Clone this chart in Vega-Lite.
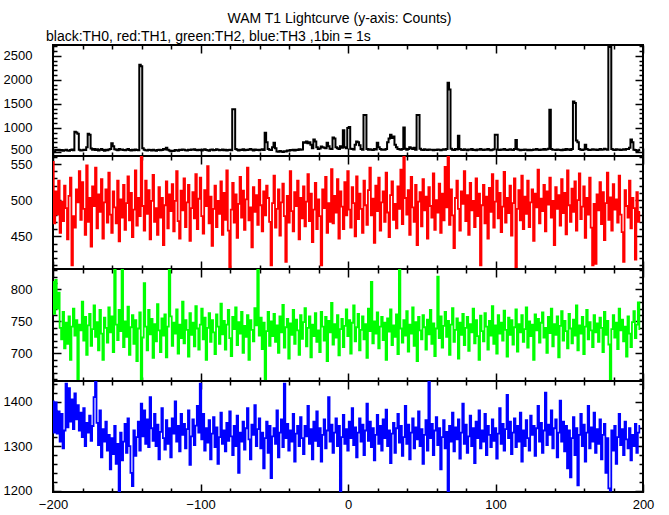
{
"$schema": "https://vega.github.io/schema/vega-lite/v6.json",
"padding": {"left": 2, "top": 12, "right": 5, "bottom": 2},
"bounds": "flush",
"spacing": 0,
"title": {"text": "WAM T1 Lightcurve (y-axis: Counts)", "anchor": "middle", "dx": 11, "fontSize": 14, "fontWeight": "normal", "font": "Liberation Sans", "color": "black", "offset": 3},
"datasets": {"lc": [
{"t":-200,"a":500,"b":553,"c":812,"d":1400},{"t":-199,"a":512,"b":468,"c":762,"d":1330},{"t":-198,"a":540,"b":512,"c":815,"d":1398},{"t":-197,"a":535,"b":480,"c":770,"d":1328},{"t":-196,"a":548,"b":527,"c":795,"d":1378},{"t":-195,"a":530,"b":455,"c":740,"d":1310},{"t":-194,"a":542,"b":498,"c":722,"d":1372},{"t":-193,"a":528,"b":471,"c":765,"d":1295},{"t":-192,"a":536,"b":520,"c":708,"d":1335},{"t":-191,"a":545,"b":489,"c":748,"d":1440},
{"t":-190,"a":532,"b":446,"c":715,"d":1342},{"t":-189,"a":526,"b":506,"c":758,"d":1430},{"t":-188,"a":540,"b":531,"c":690,"d":1355},{"t":-187,"a":552,"b":410,"c":742,"d":1405},{"t":-186,"a":538,"b":478,"c":770,"d":1338},{"t":-185,"a":920,"b":462,"c":728,"d":1418},{"t":-184,"a":905,"b":515,"c":752,"d":1360},{"t":-183,"a":880,"b":497,"c":660,"d":1392},{"t":-182,"a":545,"b":540,"c":745,"d":1335},{"t":-181,"a":530,"b":473,"c":736,"d":1375},
{"t":-180,"a":536,"b":525,"c":781,"d":1320},{"t":-179,"a":548,"b":488,"c":720,"d":1385},{"t":-178,"a":540,"b":452,"c":757,"d":1300},{"t":-177,"a":600,"b":548,"c":698,"d":1352},{"t":-176,"a":880,"b":470,"c":744,"d":1330},{"t":-175,"a":860,"b":503,"c":762,"d":1368},{"t":-174,"a":575,"b":436,"c":712,"d":1312},{"t":-173,"a":548,"b":519,"c":738,"d":1345},{"t":-172,"a":560,"b":492,"c":775,"d":1410},{"t":-171,"a":542,"b":545,"c":726,"d":1446},
{"t":-170,"a":555,"b":461,"c":749,"d":1352},{"t":-169,"a":530,"b":508,"c":705,"d":1302},{"t":-168,"a":548,"b":484,"c":768,"d":1380},{"t":-167,"a":562,"b":529,"c":731,"d":1275},{"t":-166,"a":540,"b":447,"c":690,"d":1338},{"t":-165,"a":528,"b":497,"c":756,"d":1310},{"t":-164,"a":545,"b":515,"c":740,"d":1355},{"t":-163,"a":536,"b":469,"c":717,"d":1290},{"t":-162,"a":550,"b":538,"c":772,"d":1325},{"t":-161,"a":560,"b":480,"c":733,"d":1248},
{"t":-160,"a":680,"b":455,"c":758,"d":1318},{"t":-159,"a":620,"b":512,"c":702,"d":1282},{"t":-158,"a":555,"b":490,"c":832,"d":1345},{"t":-157,"a":548,"b":468,"c":745,"d":1260},{"t":-156,"a":538,"b":527,"c":721,"d":1305},{"t":-155,"a":560,"b":443,"c":768,"d":1197},{"t":-154,"a":546,"b":501,"c":735,"d":1330},{"t":-153,"a":552,"b":476,"c":832,"d":1268},{"t":-152,"a":540,"b":521,"c":710,"d":1310},{"t":-151,"a":535,"b":459,"c":750,"d":1350},
{"t":-150,"a":548,"b":496,"c":726,"d":1285},{"t":-149,"a":560,"b":533,"c":773,"d":1362},{"t":-148,"a":542,"b":472,"c":698,"d":1300},{"t":-147,"a":530,"b":510,"c":741,"d":1240},{"t":-146,"a":545,"b":449,"c":760,"d":1210},{"t":-145,"a":538,"b":487,"c":715,"d":1335},{"t":-144,"a":552,"b":541,"c":752,"d":1278},{"t":-143,"a":544,"b":465,"c":688,"d":1320},{"t":-142,"a":536,"b":503,"c":739,"d":1355},{"t":-141,"a":2310,"b":478,"c":764,"d":1290},
{"t":-140,"a":2280,"b":561,"c":657,"d":1395},{"t":-139,"a":580,"b":492,"c":725,"d":1322},{"t":-138,"a":545,"b":458,"c":810,"d":1380},{"t":-137,"a":538,"b":527,"c":742,"d":1305},{"t":-136,"a":530,"b":481,"c":705,"d":1360},{"t":-135,"a":548,"b":514,"c":768,"d":1298},{"t":-134,"a":540,"b":446,"c":730,"d":1410},{"t":-133,"a":532,"b":499,"c":754,"d":1340},{"t":-132,"a":545,"b":535,"c":693,"d":1312},{"t":-131,"a":538,"b":470,"c":746,"d":1372},
{"t":-130,"a":528,"b":489,"c":719,"d":1300},{"t":-129,"a":540,"b":452,"c":777,"d":1348},{"t":-128,"a":548,"b":518,"c":736,"d":1270},{"t":-127,"a":535,"b":476,"c":702,"d":1332},{"t":-126,"a":542,"b":503,"c":755,"d":1385},{"t":-125,"a":560,"b":438,"c":728,"d":1318},{"t":-124,"a":552,"b":493,"c":761,"d":1292},{"t":-123,"a":590,"b":526,"c":694,"d":1358},{"t":-122,"a":545,"b":461,"c":742,"d":1305},{"t":-121,"a":530,"b":508,"c":832,"d":1340},
{"t":-120,"a":515,"b":485,"c":758,"d":1275},{"t":-119,"a":525,"b":522,"c":712,"d":1362},{"t":-118,"a":520,"b":457,"c":748,"d":1328},{"t":-117,"a":540,"b":499,"c":731,"d":1400},{"t":-116,"a":535,"b":540,"c":769,"d":1310},{"t":-115,"a":528,"b":471,"c":700,"d":1345},{"t":-114,"a":548,"b":447,"c":745,"d":1288},{"t":-113,"a":540,"b":513,"c":724,"d":1372},{"t":-112,"a":552,"b":486,"c":781,"d":1325},{"t":-111,"a":545,"b":530,"c":716,"d":1350},
{"t":-110,"a":538,"b":463,"c":752,"d":1295},{"t":-109,"a":530,"b":497,"c":737,"d":1338},{"t":-108,"a":545,"b":521,"c":695,"d":1380},{"t":-107,"a":540,"b":444,"c":763,"d":1258},{"t":-106,"a":552,"b":489,"c":729,"d":1322},{"t":-105,"a":548,"b":511,"c":748,"d":1360},{"t":-104,"a":556,"b":475,"c":711,"d":1302},{"t":-103,"a":542,"b":536,"c":774,"d":1346},{"t":-102,"a":538,"b":460,"c":739,"d":1390},{"t":-101,"a":548,"b":502,"c":706,"d":1330},
{"t":-100,"a":540,"b":531,"c":745,"d":1440},{"t":-99,"a":530,"b":478,"c":770,"d":1315},{"t":-98,"a":545,"b":454,"c":722,"d":1372},{"t":-97,"a":556,"b":514,"c":756,"d":1290},{"t":-96,"a":540,"b":492,"c":690,"d":1340},{"t":-95,"a":535,"b":547,"c":740,"d":1308},{"t":-94,"a":528,"b":468,"c":763,"d":1358},{"t":-93,"a":545,"b":505,"c":718,"d":1270},{"t":-92,"a":552,"b":437,"c":752,"d":1328},{"t":-91,"a":538,"b":488,"c":733,"d":1365},
{"t":-90,"a":542,"b":520,"c":699,"d":1298},{"t":-89,"a":556,"b":463,"c":761,"d":1342},{"t":-88,"a":548,"b":499,"c":742,"d":1260},{"t":-87,"a":535,"b":481,"c":715,"d":1320},{"t":-86,"a":540,"b":526,"c":778,"d":1375},{"t":-85,"a":552,"b":452,"c":730,"d":1305},{"t":-84,"a":538,"b":510,"c":751,"d":1335},{"t":-83,"a":545,"b":473,"c":706,"d":1288},{"t":-82,"a":532,"b":541,"c":745,"d":1352},{"t":-81,"a":540,"b":458,"c":768,"d":1312},
{"t":-80,"a":548,"b":405,"c":724,"d":1378},{"t":-79,"a":536,"b":487,"c":696,"d":1322},{"t":-78,"a":1390,"b":524,"c":757,"d":1280},{"t":-77,"a":1390,"b":469,"c":738,"d":1345},{"t":-76,"a":560,"b":508,"c":772,"d":1300},{"t":-75,"a":545,"b":448,"c":713,"d":1368},{"t":-74,"a":532,"b":495,"c":749,"d":1240},{"t":-73,"a":548,"b":532,"c":731,"d":1330},{"t":-72,"a":540,"b":476,"c":765,"d":1310},{"t":-71,"a":555,"b":513,"c":701,"d":1355},
{"t":-70,"a":538,"b":459,"c":743,"d":1292},{"t":-69,"a":548,"b":501,"c":726,"d":1340},{"t":-68,"a":540,"b":545,"c":760,"d":1385},{"t":-67,"a":552,"b":472,"c":690,"d":1315},{"t":-66,"a":560,"b":490,"c":752,"d":1270},{"t":-65,"a":545,"b":435,"c":737,"d":1348},{"t":-64,"a":530,"b":518,"c":719,"d":1325},{"t":-63,"a":552,"b":484,"c":771,"d":1392},{"t":-62,"a":540,"b":507,"c":744,"d":1300},{"t":-61,"a":548,"b":466,"c":832,"d":1338},
{"t":-60,"a":536,"b":528,"c":728,"d":1362},{"t":-59,"a":545,"b":493,"c":756,"d":1295},{"t":-58,"a":558,"b":457,"c":707,"d":1330},{"t":-57,"a":540,"b":512,"c":748,"d":1250},{"t":-56,"a":900,"b":479,"c":660,"d":1318},{"t":-55,"a":700,"b":520,"c":735,"d":1355},{"t":-54,"a":560,"b":503,"c":765,"d":1285},{"t":-53,"a":548,"b":470,"c":712,"d":1345},{"t":-52,"a":540,"b":410,"c":750,"d":1228},{"t":-51,"a":600,"b":496,"c":727,"d":1322},
{"t":-50,"a":690,"b":534,"c":762,"d":1340},{"t":-49,"a":580,"b":462,"c":718,"d":1305},{"t":-48,"a":510,"b":488,"c":744,"d":1380},{"t":-47,"a":505,"b":515,"c":701,"d":1275},{"t":-46,"a":520,"b":451,"c":758,"d":1330},{"t":-45,"a":512,"b":497,"c":733,"d":1360},{"t":-44,"a":500,"b":523,"c":776,"d":1298},{"t":-43,"a":515,"b":478,"c":709,"d":1440},{"t":-42,"a":508,"b":415,"c":741,"d":1318},{"t":-41,"a":530,"b":506,"c":754,"d":1350},
{"t":-40,"a":525,"b":469,"c":692,"d":1290},{"t":-39,"a":540,"b":540,"c":747,"d":1335},{"t":-38,"a":535,"b":485,"c":729,"d":1310},{"t":-37,"a":545,"b":457,"c":768,"d":1372},{"t":-36,"a":532,"b":511,"c":715,"d":1265},{"t":-35,"a":548,"b":492,"c":753,"d":1328},{"t":-34,"a":540,"b":527,"c":736,"d":1345},{"t":-33,"a":556,"b":446,"c":698,"d":1300},{"t":-32,"a":545,"b":503,"c":760,"d":1365},{"t":-31,"a":552,"b":475,"c":723,"d":1318},
{"t":-30,"a":700,"b":519,"c":749,"d":1282},{"t":-29,"a":690,"b":464,"c":771,"d":1345},{"t":-28,"a":720,"b":498,"c":711,"d":1322},{"t":-27,"a":680,"b":536,"c":740,"d":1390},{"t":-26,"a":700,"b":471,"c":758,"d":1305},{"t":-25,"a":650,"b":509,"c":694,"d":1338},{"t":-24,"a":580,"b":442,"c":745,"d":1270},{"t":-23,"a":760,"b":487,"c":727,"d":1355},{"t":-22,"a":720,"b":524,"c":763,"d":1312},{"t":-21,"a":600,"b":460,"c":718,"d":1378},
{"t":-20,"a":560,"b":501,"c":736,"d":1300},{"t":-19,"a":575,"b":478,"c":702,"d":1340},{"t":-18,"a":612,"b":410,"c":765,"d":1265},{"t":-17,"a":600,"b":515,"c":742,"d":1325},{"t":-16,"a":590,"b":489,"c":720,"d":1360},{"t":-15,"a":580,"b":532,"c":757,"d":1295},{"t":-14,"a":690,"b":455,"c":688,"d":1335},{"t":-13,"a":620,"b":496,"c":751,"d":1410},{"t":-12,"a":570,"b":470,"c":733,"d":1310},{"t":-11,"a":560,"b":543,"c":779,"d":1348},
{"t":-10,"a":800,"b":468,"c":714,"d":1285},{"t":-9,"a":780,"b":506,"c":746,"d":1330},{"t":-8,"a":600,"b":483,"c":725,"d":1362},{"t":-7,"a":580,"b":529,"c":760,"d":1300},{"t":-6,"a":560,"b":447,"c":697,"d":1345},{"t":-5,"a":620,"b":512,"c":738,"d":1197},{"t":-4,"a":590,"b":491,"c":754,"d":1320},{"t":-3,"a":950,"b":460,"c":710,"d":1370},{"t":-2,"a":600,"b":525,"c":743,"d":1305},{"t":-1,"a":580,"b":479,"c":769,"d":1338},
{"t":0,"a":1000,"b":540,"c":727,"d":1290},{"t":1,"a":1020,"b":487,"c":752,"d":1355},{"t":2,"a":570,"b":462,"c":700,"d":1318},{"t":3,"a":560,"b":518,"c":748,"d":1385},{"t":4,"a":550,"b":496,"c":775,"d":1302},{"t":5,"a":650,"b":450,"c":719,"d":1342},{"t":6,"a":720,"b":533,"c":741,"d":1275},{"t":7,"a":700,"b":474,"c":762,"d":1330},{"t":8,"a":640,"b":509,"c":705,"d":1362},{"t":9,"a":560,"b":488,"c":737,"d":1310},
{"t":10,"a":548,"b":455,"c":758,"d":1348},{"t":11,"a":1270,"b":527,"c":722,"d":1280},{"t":12,"a":1270,"b":493,"c":746,"d":1335},{"t":13,"a":560,"b":466,"c":693,"d":1395},{"t":14,"a":545,"b":514,"c":770,"d":1312},{"t":15,"a":555,"b":545,"c":735,"d":1355},{"t":16,"a":548,"b":479,"c":812,"d":1298},{"t":17,"a":540,"b":502,"c":716,"d":1340},{"t":18,"a":560,"b":441,"c":750,"d":1268},{"t":19,"a":552,"b":520,"c":731,"d":1325},
{"t":20,"a":690,"b":485,"c":764,"d":1370},{"t":21,"a":600,"b":531,"c":708,"d":1305},{"t":22,"a":560,"b":458,"c":742,"d":1345},{"t":23,"a":548,"b":497,"c":757,"d":1290},{"t":24,"a":552,"b":512,"c":721,"d":1360},{"t":25,"a":545,"b":470,"c":748,"d":1318},{"t":26,"a":560,"b":538,"c":690,"d":1382},{"t":27,"a":700,"b":483,"c":755,"d":1300},{"t":28,"a":780,"b":449,"c":734,"d":1335},{"t":29,"a":860,"b":507,"c":769,"d":1262},
{"t":30,"a":790,"b":526,"c":713,"d":1328},{"t":31,"a":820,"b":473,"c":744,"d":1352},{"t":32,"a":650,"b":495,"c":726,"d":1285},{"t":33,"a":600,"b":461,"c":761,"d":1340},{"t":34,"a":560,"b":519,"c":699,"d":1372},{"t":35,"a":555,"b":488,"c":832,"d":1308},{"t":36,"a":548,"b":542,"c":739,"d":1345},{"t":37,"a":560,"b":467,"c":717,"d":1278},{"t":38,"a":1010,"b":561,"c":752,"d":1320},{"t":39,"a":570,"b":503,"c":728,"d":1390},
{"t":40,"a":545,"b":480,"c":766,"d":1305},{"t":41,"a":560,"b":514,"c":703,"d":1348},{"t":42,"a":600,"b":452,"c":745,"d":1270},{"t":43,"a":580,"b":532,"c":731,"d":1330},{"t":44,"a":560,"b":490,"c":772,"d":1362},{"t":45,"a":590,"b":470,"c":712,"d":1295},{"t":46,"a":548,"b":521,"c":749,"d":1342},{"t":47,"a":1270,"b":438,"c":688,"d":1315},{"t":48,"a":1270,"b":498,"c":757,"d":1378},{"t":49,"a":565,"b":511,"c":736,"d":1300},
{"t":50,"a":548,"b":464,"c":722,"d":1338},{"t":51,"a":540,"b":529,"c":760,"d":1260},{"t":52,"a":556,"b":486,"c":741,"d":1325},{"t":53,"a":545,"b":505,"c":706,"d":1358},{"t":54,"a":540,"b":447,"c":753,"d":1290},{"t":55,"a":552,"b":518,"c":730,"d":1445},{"t":56,"a":548,"b":492,"c":768,"d":1318},{"t":57,"a":545,"b":476,"c":715,"d":1350},{"t":58,"a":535,"b":537,"c":747,"d":1280},{"t":59,"a":548,"b":459,"c":696,"d":1335},
{"t":60,"a":540,"b":500,"c":739,"d":1365},{"t":61,"a":552,"b":483,"c":820,"d":1302},{"t":62,"a":545,"b":523,"c":724,"d":1340},{"t":63,"a":538,"b":455,"c":758,"d":1248},{"t":64,"a":548,"b":509,"c":709,"d":1320},{"t":65,"a":556,"b":472,"c":743,"d":1358},{"t":66,"a":545,"b":546,"c":765,"d":1295},{"t":67,"a":560,"b":490,"c":726,"d":1332},{"t":68,"a":1940,"b":561,"c":751,"d":1197},{"t":69,"a":1800,"b":466,"c":698,"d":1345},
{"t":70,"a":570,"b":515,"c":745,"d":1310},{"t":71,"a":548,"b":479,"c":771,"d":1375},{"t":72,"a":540,"b":434,"c":718,"d":1288},{"t":73,"a":560,"b":503,"c":737,"d":1342},{"t":74,"a":552,"b":527,"c":755,"d":1315},{"t":75,"a":840,"b":488,"c":692,"d":1360},{"t":76,"a":560,"b":458,"c":748,"d":1272},{"t":77,"a":545,"b":512,"c":729,"d":1330},{"t":78,"a":540,"b":495,"c":762,"d":1395},{"t":79,"a":555,"b":540,"c":713,"d":1305},
{"t":80,"a":548,"b":471,"c":740,"d":1348},{"t":81,"a":538,"b":507,"c":757,"d":1285},{"t":82,"a":552,"b":452,"c":704,"d":1322},{"t":83,"a":545,"b":524,"c":746,"d":1368},{"t":84,"a":560,"b":486,"c":733,"d":1300},{"t":85,"a":540,"b":499,"c":770,"d":1340},{"t":86,"a":548,"b":463,"c":716,"d":1262},{"t":87,"a":535,"b":530,"c":752,"d":1355},{"t":88,"a":552,"b":478,"c":727,"d":1318},{"t":89,"a":545,"b":509,"c":690,"d":1380},
{"t":90,"a":560,"b":410,"c":759,"d":1295},{"t":91,"a":545,"b":493,"c":735,"d":1335},{"t":92,"a":540,"b":521,"c":719,"d":1310},{"t":93,"a":552,"b":468,"c":763,"d":1372},{"t":94,"a":548,"b":505,"c":742,"d":1280},{"t":95,"a":560,"b":447,"c":706,"d":1345},{"t":96,"a":545,"b":517,"c":751,"d":1325},{"t":97,"a":538,"b":484,"c":728,"d":1298},{"t":98,"a":548,"b":536,"c":774,"d":1360},{"t":99,"a":556,"b":462,"c":715,"d":1312},
{"t":100,"a":860,"b":498,"c":744,"d":1340},{"t":101,"a":860,"b":527,"c":700,"d":1272},{"t":102,"a":548,"b":475,"c":760,"d":1328},{"t":103,"a":540,"b":510,"c":731,"d":1385},{"t":104,"a":552,"b":456,"c":748,"d":1305},{"t":105,"a":545,"b":491,"c":720,"d":1350},{"t":106,"a":560,"b":539,"c":767,"d":1290},{"t":107,"a":548,"b":469,"c":737,"d":1338},{"t":108,"a":540,"b":503,"c":695,"d":1415},{"t":109,"a":545,"b":482,"c":756,"d":1318},
{"t":110,"a":556,"b":520,"c":729,"d":1355},{"t":111,"a":548,"b":451,"c":752,"d":1282},{"t":112,"a":540,"b":496,"c":714,"d":1330},{"t":113,"a":560,"b":530,"c":741,"d":1362},{"t":114,"a":750,"b":407,"c":769,"d":1298},{"t":115,"a":555,"b":488,"c":703,"d":1345},{"t":116,"a":545,"b":514,"c":746,"d":1310},{"t":117,"a":538,"b":472,"c":733,"d":1375},{"t":118,"a":548,"b":534,"c":760,"d":1265},{"t":119,"a":540,"b":460,"c":718,"d":1335},
{"t":120,"a":552,"b":505,"c":738,"d":1300},{"t":121,"a":545,"b":481,"c":772,"d":1358},{"t":122,"a":538,"b":527,"c":709,"d":1318},{"t":123,"a":548,"b":463,"c":750,"d":1290},{"t":124,"a":535,"b":497,"c":727,"d":1368},{"t":125,"a":540,"b":515,"c":745,"d":1325},{"t":126,"a":552,"b":444,"c":690,"d":1345},{"t":127,"a":545,"b":509,"c":761,"d":1278},{"t":128,"a":560,"b":490,"c":736,"d":1340},{"t":129,"a":548,"b":542,"c":754,"d":1390},
{"t":130,"a":540,"b":468,"c":717,"d":1310},{"t":131,"a":552,"b":502,"c":748,"d":1352},{"t":132,"a":545,"b":485,"c":764,"d":1285},{"t":133,"a":560,"b":521,"c":725,"d":1335},{"t":134,"a":548,"b":457,"c":740,"d":1420},{"t":135,"a":556,"b":512,"c":701,"d":1302},{"t":136,"a":570,"b":494,"c":757,"d":1348},{"t":137,"a":1380,"b":531,"c":732,"d":1325},{"t":138,"a":560,"b":476,"c":770,"d":1380},{"t":139,"a":548,"b":499,"c":711,"d":1295},
{"t":140,"a":545,"b":438,"c":746,"d":1340},{"t":141,"a":540,"b":518,"c":729,"d":1360},{"t":142,"a":552,"b":488,"c":758,"d":1275},{"t":143,"a":548,"b":507,"c":694,"d":1330},{"t":144,"a":540,"b":465,"c":743,"d":1402},{"t":145,"a":535,"b":529,"c":766,"d":1310},{"t":146,"a":550,"b":482,"c":720,"d":1355},{"t":147,"a":542,"b":510,"c":751,"d":1288},{"t":148,"a":560,"b":453,"c":735,"d":1345},{"t":149,"a":548,"b":541,"c":708,"d":1250},
{"t":150,"a":555,"b":493,"c":762,"d":1335},{"t":151,"a":540,"b":470,"c":739,"d":1230},{"t":152,"a":560,"b":516,"c":716,"d":1318},{"t":153,"a":1550,"b":484,"c":753,"d":1365},{"t":154,"a":1520,"b":526,"c":728,"d":1280},{"t":155,"a":740,"b":458,"c":775,"d":1340},{"t":156,"a":700,"b":500,"c":705,"d":1212},{"t":157,"a":560,"b":537,"c":744,"d":1325},{"t":158,"a":548,"b":474,"c":731,"d":1372},{"t":159,"a":540,"b":491,"c":757,"d":1300},
{"t":160,"a":552,"b":519,"c":699,"d":1348},{"t":161,"a":650,"b":448,"c":742,"d":1265},{"t":162,"a":560,"b":503,"c":768,"d":1330},{"t":163,"a":545,"b":480,"c":722,"d":1390},{"t":164,"a":540,"b":531,"c":749,"d":1295},{"t":165,"a":548,"b":462,"c":736,"d":1342},{"t":166,"a":556,"b":410,"c":710,"d":1310},{"t":167,"a":545,"b":495,"c":760,"d":1375},{"t":168,"a":552,"b":412,"c":733,"d":1285},{"t":169,"a":540,"b":508,"c":747,"d":1338},
{"t":170,"a":548,"b":486,"c":718,"d":1305},{"t":171,"a":560,"b":525,"c":756,"d":1360},{"t":172,"a":545,"b":467,"c":740,"d":1270},{"t":173,"a":552,"b":511,"c":702,"d":1325},{"t":174,"a":570,"b":445,"c":765,"d":1350},{"t":175,"a":556,"b":496,"c":729,"d":1240},{"t":176,"a":545,"b":538,"c":751,"d":1318},{"t":177,"a":2680,"b":473,"c":714,"d":1205},{"t":178,"a":2680,"b":504,"c":660,"d":1200},{"t":179,"a":560,"b":458,"c":738,"d":1335},
{"t":180,"a":548,"b":522,"c":760,"d":1290},{"t":181,"a":540,"b":487,"c":725,"d":1345},{"t":182,"a":556,"b":501,"c":748,"d":1260},{"t":183,"a":545,"b":469,"c":707,"d":1320},{"t":184,"a":552,"b":534,"c":770,"d":1372},{"t":185,"a":540,"b":480,"c":736,"d":1302},{"t":186,"a":548,"b":456,"c":753,"d":1338},{"t":187,"a":556,"b":415,"c":719,"d":1280},{"t":188,"a":545,"b":514,"c":742,"d":1355},{"t":189,"a":560,"b":492,"c":695,"d":1315},
{"t":190,"a":560,"b":476,"c":758,"d":1295},{"t":191,"a":590,"b":527,"c":731,"d":1340},{"t":192,"a":760,"b":461,"c":710,"d":1268},{"t":193,"a":700,"b":503,"c":749,"d":1325},{"t":194,"a":548,"b":489,"c":766,"d":1300},{"t":195,"a":540,"b":418,"c":724,"d":1350},{"t":196,"a":520,"b":511,"c":745,"d":1285},{"t":197,"a":530,"b":470,"c":780,"d":1330},{"t":198,"a":548,"b":484,"c":738,"d":1345}
]},
"vconcat": [
{
"width": 590, "height": 111,
"data": {"name": "lc"},
"title": {"text": "black:TH0, red:TH1, green:TH2, blue:TH3 ,1bin = 1s", "anchor": "start", "frame": "group", "dx": -7, "offset": 0, "fontSize": 14, "fontWeight": "normal", "font": "Liberation Sans", "color": "black"},
"layer": [
{"mark": {"type": "line", "interpolate": "step", "color": "black", "strokeWidth": 2, "clip": true},
 "encoding": {
  "x": {"field": "t", "type": "quantitative", "scale": {"domain": [-200, 200], "nice": false, "zero": false}, "axis": {"orient": "bottom", "values": [-200,-100,0,100,200], "labels": false, "tickSize": -8, "title": null}},
  "y": {"field": "a", "type": "quantitative", "scale": {"domain": [417, 2722], "nice": false, "zero": false}, "axis": {"orient": "left", "values": [500,1000,1500,2000,2500], "format": "d", "labelOffset": {"condition": {"test": "datum.value == 500", "value": -3}, "value": 0}, "tickSize": -8, "labelPadding": 29, "title": null}}}},
{"mark": {"type": "line", "opacity": 0},
 "encoding": {
  "x": {"field": "t", "type": "quantitative", "scale": {"domain": [-200, 200], "nice": false, "zero": false}, "axis": {"orient": "top", "values": [-200,-100,0,100,200], "labels": false, "tickSize": -8, "title": null}},
  "y": {"field": "a", "type": "quantitative", "scale": {"domain": [417, 2722], "nice": false, "zero": false}, "axis": {"orient": "right", "values": [500,1000,1500,2000,2500], "labels": false, "tickSize": -8, "title": null}}}},
{"mark": {"type": "line", "opacity": 0},
 "encoding": {
  "x": {"field": "t", "type": "quantitative", "scale": {"domain": [-200, 200], "nice": false, "zero": false}, "axis": {"orient": "bottom", "values": [-180,-160,-140,-120,-80,-60,-40,-20,20,40,60,80,120,140,160,180], "labels": false, "tickSize": -4, "title": null}},
  "y": {"field": "a", "type": "quantitative", "scale": {"domain": [417, 2722], "nice": false, "zero": false}, "axis": {"orient": "left", "values": [600,700,800,900,1100,1200,1300,1400,1600,1700,1800,1900,2100,2200,2300,2400,2600,2700], "labels": false, "tickSize": -4, "title": null}}}},
{"mark": {"type": "line", "opacity": 0},
 "encoding": {
  "x": {"field": "t", "type": "quantitative", "scale": {"domain": [-200, 200], "nice": false, "zero": false}, "axis": {"orient": "top", "values": [-180,-160,-140,-120,-80,-60,-40,-20,20,40,60,80,120,140,160,180], "labels": false, "tickSize": -4, "title": null}},
  "y": {"field": "a", "type": "quantitative", "scale": {"domain": [417, 2722], "nice": false, "zero": false}, "axis": {"orient": "right", "values": [600,700,800,900,1100,1200,1300,1400,1600,1700,1800,1900,2100,2200,2300,2400,2600,2700], "labels": false, "tickSize": -4, "title": null}}}}
],
"resolve": {"axis": {"x": "independent", "y": "independent"}}
},
{
"width": 590, "height": 113,
"data": {"name": "lc"},
"layer": [
{"mark": {"type": "line", "interpolate": "step", "color": "#ff0000", "strokeWidth": 1.8, "clip": true},
 "encoding": {
  "x": {"field": "t", "type": "quantitative", "scale": {"domain": [-200, 200], "nice": false, "zero": false}, "axis": {"orient": "bottom", "values": [-200,-100,0,100,200], "labels": false, "tickSize": -8, "title": null}},
  "y": {"field": "b", "type": "quantitative", "scale": {"domain": [405, 561], "nice": false, "zero": false}, "axis": {"orient": "left", "values": [450,500,550], "format": "d", "labelOffset": {"condition": {"test": "datum.value == 550", "value": 1}, "value": 0}, "tickSize": -8, "labelPadding": 29, "title": null}}}},
{"mark": {"type": "line", "opacity": 0},
 "encoding": {
  "x": {"field": "t", "type": "quantitative", "scale": {"domain": [-200, 200], "nice": false, "zero": false}, "axis": {"orient": "top", "values": [-200,-100,0,100,200], "labels": false, "tickSize": -8, "title": null}},
  "y": {"field": "b", "type": "quantitative", "scale": {"domain": [405, 561], "nice": false, "zero": false}, "axis": {"orient": "right", "values": [450,500,550], "labels": false, "tickSize": -8, "title": null}}}},
{"mark": {"type": "line", "opacity": 0},
 "encoding": {
  "x": {"field": "t", "type": "quantitative", "scale": {"domain": [-200, 200], "nice": false, "zero": false}, "axis": {"orient": "bottom", "values": [-180,-160,-140,-120,-80,-60,-40,-20,20,40,60,80,120,140,160,180], "labels": false, "tickSize": -4, "title": null}},
  "y": {"field": "b", "type": "quantitative", "scale": {"domain": [405, 561], "nice": false, "zero": false}, "axis": {"orient": "left", "values": [410,420,430,440,460,470,480,490,510,520,530,540,560], "labels": false, "tickSize": -4, "title": null}}}},
{"mark": {"type": "line", "opacity": 0},
 "encoding": {
  "x": {"field": "t", "type": "quantitative", "scale": {"domain": [-200, 200], "nice": false, "zero": false}, "axis": {"orient": "top", "values": [-180,-160,-140,-120,-80,-60,-40,-20,20,40,60,80,120,140,160,180], "labels": false, "tickSize": -4, "title": null}},
  "y": {"field": "b", "type": "quantitative", "scale": {"domain": [405, 561], "nice": false, "zero": false}, "axis": {"orient": "right", "values": [410,420,430,440,460,470,480,490,510,520,530,540,560], "labels": false, "tickSize": -4, "title": null}}}}
],
"resolve": {"axis": {"x": "independent", "y": "independent"}}
},
{
"width": 590, "height": 112,
"data": {"name": "lc"},
"layer": [
{"mark": {"type": "line", "interpolate": "step", "color": "#00ff00", "strokeWidth": 1.8, "clip": true},
 "encoding": {
  "x": {"field": "t", "type": "quantitative", "scale": {"domain": [-200, 200], "nice": false, "zero": false}, "axis": {"orient": "bottom", "values": [-200,-100,0,100,200], "labels": false, "tickSize": -8, "title": null}},
  "y": {"field": "c", "type": "quantitative", "scale": {"domain": [657, 832], "nice": false, "zero": false}, "axis": {"orient": "left", "values": [700,750,800], "format": "d", "tickSize": -8, "labelPadding": 29, "title": null}}}},
{"mark": {"type": "line", "opacity": 0},
 "encoding": {
  "x": {"field": "t", "type": "quantitative", "scale": {"domain": [-200, 200], "nice": false, "zero": false}, "axis": {"orient": "top", "values": [-200,-100,0,100,200], "labels": false, "tickSize": -8, "title": null}},
  "y": {"field": "c", "type": "quantitative", "scale": {"domain": [657, 832], "nice": false, "zero": false}, "axis": {"orient": "right", "values": [700,750,800], "labels": false, "tickSize": -8, "title": null}}}},
{"mark": {"type": "line", "opacity": 0},
 "encoding": {
  "x": {"field": "t", "type": "quantitative", "scale": {"domain": [-200, 200], "nice": false, "zero": false}, "axis": {"orient": "bottom", "values": [-180,-160,-140,-120,-80,-60,-40,-20,20,40,60,80,120,140,160,180], "labels": false, "tickSize": -4, "title": null}},
  "y": {"field": "c", "type": "quantitative", "scale": {"domain": [657, 832], "nice": false, "zero": false}, "axis": {"orient": "left", "values": [660,670,680,690,710,720,730,740,760,770,780,790,810,820,830], "labels": false, "tickSize": -4, "title": null}}}},
{"mark": {"type": "line", "opacity": 0},
 "encoding": {
  "x": {"field": "t", "type": "quantitative", "scale": {"domain": [-200, 200], "nice": false, "zero": false}, "axis": {"orient": "top", "values": [-180,-160,-140,-120,-80,-60,-40,-20,20,40,60,80,120,140,160,180], "labels": false, "tickSize": -4, "title": null}},
  "y": {"field": "c", "type": "quantitative", "scale": {"domain": [657, 832], "nice": false, "zero": false}, "axis": {"orient": "right", "values": [660,670,680,690,710,720,730,740,760,770,780,790,810,820,830], "labels": false, "tickSize": -4, "title": null}}}}
],
"resolve": {"axis": {"x": "independent", "y": "independent"}}
},
{
"width": 590, "height": 111,
"data": {"name": "lc"},
"layer": [
{"mark": {"type": "line", "interpolate": "step", "color": "#0000ff", "strokeWidth": 1.8, "clip": true},
 "encoding": {
  "x": {"field": "t", "type": "quantitative", "scale": {"domain": [-200, 200], "nice": false, "zero": false}, "axis": {"orient": "bottom", "values": [-200,-100,0,100,200], "format": "d", "tickSize": -8, "labelPadding": 14, "labelFlush": false, "title": null}},
  "y": {"field": "d", "type": "quantitative", "scale": {"domain": [1197, 1446], "nice": false, "zero": false}, "axis": {"orient": "left", "values": [1200,1300,1400], "format": "d", "tickSize": -8, "labelPadding": 29, "title": null}}}},
{"mark": {"type": "line", "opacity": 0},
 "encoding": {
  "x": {"field": "t", "type": "quantitative", "scale": {"domain": [-200, 200], "nice": false, "zero": false}, "axis": {"orient": "top", "values": [-200,-100,0,100,200], "labels": false, "tickSize": -8, "title": null}},
  "y": {"field": "d", "type": "quantitative", "scale": {"domain": [1197, 1446], "nice": false, "zero": false}, "axis": {"orient": "right", "values": [1200,1300,1400], "labels": false, "tickSize": -8, "title": null}}}},
{"mark": {"type": "line", "opacity": 0},
 "encoding": {
  "x": {"field": "t", "type": "quantitative", "scale": {"domain": [-200, 200], "nice": false, "zero": false}, "axis": {"orient": "bottom", "values": [-180,-160,-140,-120,-80,-60,-40,-20,20,40,60,80,120,140,160,180], "labels": false, "tickSize": -4, "title": null}},
  "y": {"field": "d", "type": "quantitative", "scale": {"domain": [1197, 1446], "nice": false, "zero": false}, "axis": {"orient": "left", "values": [1220,1240,1260,1280,1320,1340,1360,1380,1420,1440], "labels": false, "tickSize": -4, "title": null}}}},
{"mark": {"type": "line", "opacity": 0},
 "encoding": {
  "x": {"field": "t", "type": "quantitative", "scale": {"domain": [-200, 200], "nice": false, "zero": false}, "axis": {"orient": "top", "values": [-180,-160,-140,-120,-80,-60,-40,-20,20,40,60,80,120,140,160,180], "labels": false, "tickSize": -4, "title": null}},
  "y": {"field": "d", "type": "quantitative", "scale": {"domain": [1197, 1446], "nice": false, "zero": false}, "axis": {"orient": "right", "values": [1220,1240,1260,1280,1320,1340,1360,1380,1420,1440], "labels": false, "tickSize": -4, "title": null}}}}
],
"resolve": {"axis": {"x": "independent", "y": "independent"}}
}
],
"config": {
 "font": "Liberation Sans",
 "view": {"stroke": "black", "strokeWidth": 2},
 "axis": {"domain": false, "grid": false, "ticks": true, "tickColor": "black", "tickWidth": 1.5, "labelFont": "Liberation Sans", "labelFontSize": 13, "labelColor": "black", "labelOverlap": false}
}
}
